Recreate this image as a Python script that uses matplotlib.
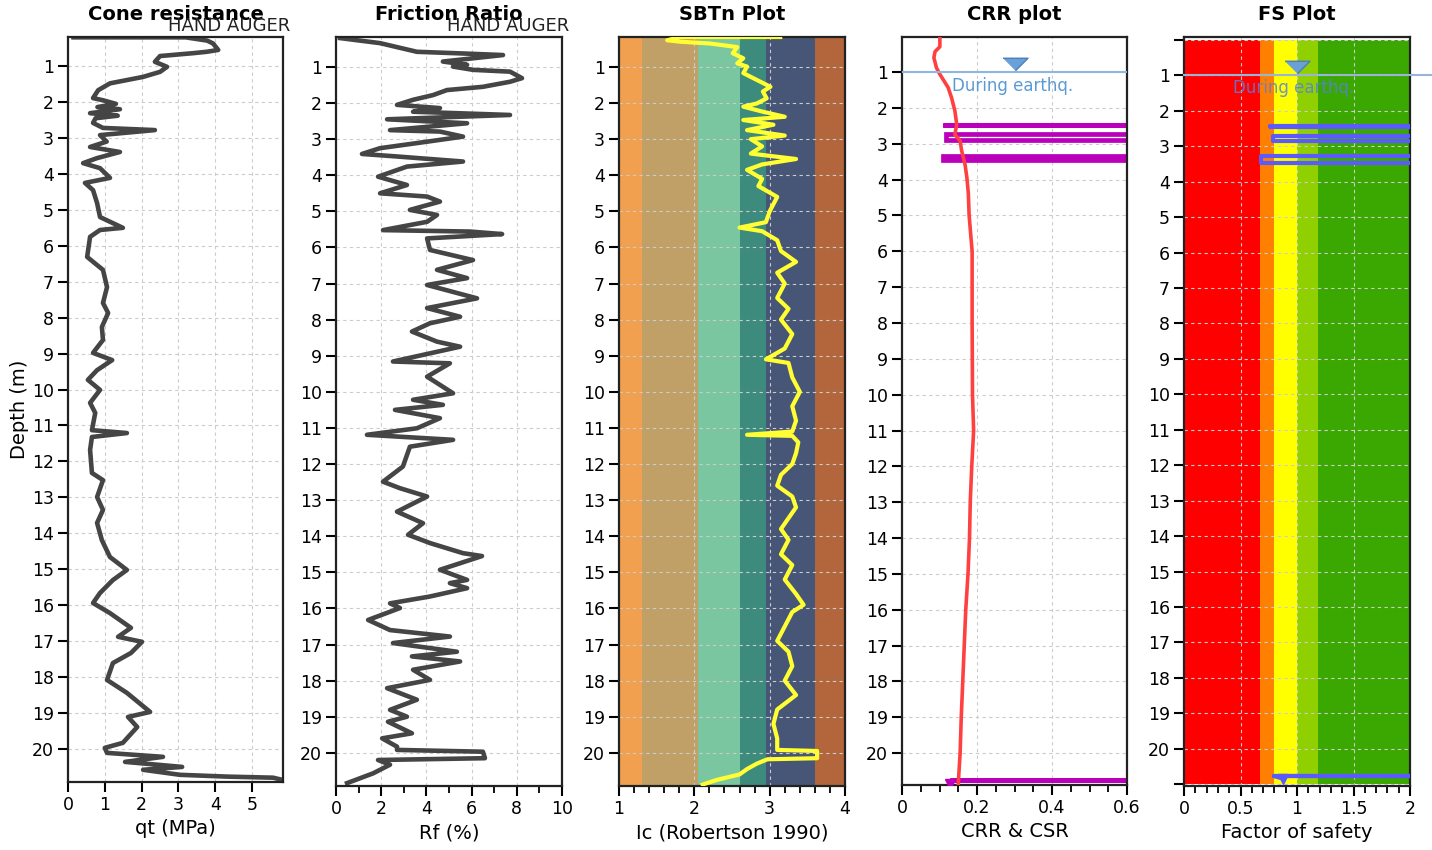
import numpy as np
import matplotlib
matplotlib.use('Agg')
import matplotlib.pyplot as plt
from matplotlib.ticker import MultipleLocator, FuncFormatter

# Cone resistance qt (MPa) vs depth (m)
qt_depth = [0.20, 0.20, 0.29, 0.37, 0.55, 0.60, 0.64, 0.72, 0.88, 1.02, 1.16, 1.30, 1.48, 1.67,
            1.89, 1.95, 2.05, 2.14, 2.20, 2.31, 2.38, 2.45, 2.58, 2.72, 2.78, 2.92, 3.10, 3.25,
            3.39, 3.56, 3.70, 3.84, 4.11, 4.25, 4.45, 4.81, 5.20, 5.50, 5.56, 5.75, 6.31, 6.67,
            7.15, 7.59, 7.87, 8.26, 8.62, 8.98, 9.18, 9.46, 9.73, 10.01, 10.37, 10.65, 11.13,
            11.21, 11.32, 11.68, 12.32, 12.52, 12.99, 13.35, 13.71, 14.19, 14.66, 15.02, 15.30,
            15.66, 15.94, 16.22, 16.63, 16.88, 17.02, 17.33, 17.61, 18.08, 18.44, 18.97, 19.11,
            19.39, 19.83, 19.97, 20.11, 20.22, 20.36, 20.50, 20.58, 20.72, 20.77, 20.80, 20.86]
qt_val = [0.15, 3.20, 3.78, 3.94, 4.08, 3.78, 3.40, 2.50, 2.36, 2.69, 2.50, 2.04, 1.14, 0.82,
          0.68, 0.95, 1.30, 0.80, 1.41, 0.60, 1.35, 0.75, 0.68, 0.95, 2.36, 0.87, 1.05, 0.60,
          1.41, 0.79, 0.41, 0.87, 1.14, 0.46, 0.68, 0.79, 0.87, 1.49, 0.87, 0.60, 0.52, 0.95,
          1.06, 0.95, 1.09, 0.92, 0.95, 0.68, 1.20, 0.79, 0.54, 0.87, 0.60, 0.74, 0.65,
          1.60, 0.65, 0.60, 0.65, 0.95, 0.79, 0.95, 0.79, 0.92, 1.14, 1.60, 1.22,
          0.87, 0.68, 1.14, 1.71, 1.36, 2.01, 1.71, 1.22, 1.06, 1.60, 2.23, 1.63,
          1.88, 1.49, 1.00, 1.06, 2.58, 1.55, 3.10, 2.04, 3.04, 4.32, 5.57, 5.82]

# Friction ratio Rf (%) vs depth (m)
rf_depth = [0.20, 0.34, 0.58, 0.62, 0.67, 0.85, 0.94, 0.99, 1.08, 1.13, 1.31, 1.41, 1.55, 1.64,
            1.78, 1.91, 2.05, 2.14, 2.24, 2.33, 2.45, 2.56, 2.75, 2.79, 2.93, 3.07, 3.25, 3.41,
            3.48, 3.62, 3.76, 4.04, 4.27, 4.50, 4.59, 4.73, 4.96, 5.10, 5.29, 5.52, 5.56, 5.63,
            5.75, 6.07, 6.35, 6.62, 6.85, 7.04, 7.41, 7.68, 7.92, 8.10, 8.33, 8.61, 8.75, 9.16,
            9.21, 9.58, 10.04, 10.22, 10.36, 10.50, 10.73, 11.01, 11.19, 11.33, 11.52, 12.07,
            12.49, 12.67, 12.90, 13.32, 13.64, 13.96, 14.19, 14.47, 14.55, 14.93, 15.21, 15.30,
            15.44, 15.67, 15.86, 15.99, 16.32, 16.60, 16.78, 16.96, 17.20, 17.33, 17.47, 17.70,
            17.98, 18.21, 18.53, 18.81, 19.00, 19.14, 19.46, 19.60, 19.83, 19.92, 19.97, 20.15,
            20.20, 20.33, 20.57, 20.84]
rf_val = [0.18, 1.95, 3.58, 5.35, 7.39, 4.73, 5.80, 5.18, 6.06, 7.70, 8.23, 7.70, 6.50, 4.91,
          4.29, 3.41, 2.70, 4.60, 3.41, 7.70, 2.26, 5.80, 2.39, 4.60, 5.62, 4.03, 1.95, 1.15,
          2.70, 5.62, 3.14, 1.86, 3.14, 1.95, 4.03, 4.60, 3.27, 4.47, 4.03, 2.08, 5.93, 7.35,
          4.03, 4.16, 6.06, 4.47, 5.80, 4.03, 6.24, 4.03, 5.49, 4.16, 3.36, 4.47, 5.49, 2.52,
          5.04, 4.03, 5.18, 3.41, 4.73, 2.61, 4.60, 3.58, 1.37, 5.18, 3.27, 2.96,
          2.08, 2.83, 4.03, 2.70, 3.85, 3.19, 4.16, 5.62, 6.46, 4.60, 5.80, 5.04,
          5.80, 4.16, 2.39, 2.83, 1.42, 2.39, 5.04, 2.52, 5.35, 3.36, 5.49, 3.41,
          4.16, 2.26, 3.58, 2.39, 3.14, 2.30, 3.36, 2.04, 2.70, 2.70, 6.50, 6.59,
          1.86, 2.39, 1.64, 0.49]

# Soil behaviour type index Ic vs depth (m)
ic_depth = [0.17, 0.17, 0.26, 0.30, 0.35, 0.45, 0.62, 0.76, 0.90, 0.99, 1.17, 1.36, 1.55, 1.68,
            1.87, 2.01, 2.10, 2.24, 2.38, 2.47, 2.60, 2.75, 2.90, 3.00, 3.20, 3.40, 3.55, 3.70,
            3.85, 4.10, 4.30, 4.60, 5.00, 5.30, 5.45, 5.55, 5.80, 6.10, 6.40, 6.70, 7.00, 7.40,
            7.70, 8.00, 8.40, 8.80, 9.10, 9.20, 9.60, 10.00, 10.40, 10.80, 11.10, 11.19, 11.22,
            11.40, 11.70, 12.00, 12.30, 12.60, 12.90, 13.20, 13.50, 13.80, 14.10, 14.50, 14.80,
            15.20, 15.60, 15.90, 16.10, 16.50, 16.90, 17.20, 17.60, 18.00, 18.40, 18.80, 19.20,
            19.60, 19.92, 19.95, 20.15, 20.18, 20.30, 20.45, 20.60, 20.75, 20.88]
ic_val = [3.14, 1.81, 1.64, 1.81, 2.21, 2.57, 2.51, 2.65, 2.57, 2.70, 2.65, 2.83, 3.01, 2.91,
          2.96, 2.83, 2.65, 2.91, 3.20, 2.65, 3.05, 2.70, 3.20, 2.75, 2.90, 2.75, 3.35, 2.90,
          2.70, 2.90, 2.85, 3.10, 3.00, 2.95, 2.60, 2.90, 3.10, 3.15, 3.35, 3.10, 3.20, 3.10,
          3.25, 3.15, 3.30, 3.20, 2.95, 3.25, 3.30, 3.40, 3.30, 3.35, 3.30, 2.70, 3.30,
          3.38, 3.35, 3.30, 3.15, 3.10, 3.30, 3.35, 3.25, 3.15, 3.25, 3.15, 3.30,
          3.20, 3.35, 3.45, 3.30, 3.20, 3.10, 3.25, 3.30, 3.20, 3.35, 3.10, 3.05,
          3.10, 3.10, 3.63, 3.63, 2.97, 2.83, 2.70, 2.60, 2.30, 2.11]

# SBTn zone boundaries (Ic) and colours
sbt_edges = [1.0, 1.31, 2.05, 2.60, 2.95, 3.60, 4.0]
sbt_colors = ['#f0a04e', '#c0a066', '#7ac6a0', '#3d8b7d', '#475677', '#b3663b']

# Cyclic resistance ratio vs depth (m)
crr_depth = [0.02, 0.29, 0.43, 0.60, 0.88, 1.06, 1.43, 1.71, 2.08, 2.46, 2.74, 2.92, 3.19, 3.57,
             3.94, 4.40, 5.00, 6.00, 8.00, 10.00, 11.00, 12.00, 13.00, 14.00, 15.00, 16.00,
             17.00, 18.00, 19.00, 20.00, 20.85]
crr_val = [0.101, 0.101, 0.088, 0.085, 0.092, 0.101, 0.123, 0.132, 0.141, 0.146, 0.141, 0.155,
           0.159, 0.168, 0.173, 0.177, 0.179, 0.187, 0.187, 0.188, 0.191, 0.186, 0.182, 0.180,
           0.176, 0.170, 0.166, 0.162, 0.158, 0.155, 0.150]

# Liquefiable layers: top / bottom depth, CSR and FS minima
liq_top = [2.48, 2.74, 3.33, 20.74]
liq_bot = [2.48, 2.90, 3.45, 20.74]
csr_min = [0.110, 0.117, 0.109, 0.127]
fs_top = [2.44, 2.71, 3.28, 20.76]
fs_bot = [2.47, 2.85, 3.47, 20.78]
fs_min = [0.76, 0.79, 0.68, 0.80]

# FS colour zones
fs_edges = [0, 0.67, 0.80, 1.0, 1.19, 2.0]
fs_colors = ['#ff0000', '#ff8000', '#ffff00', '#90d000', '#3aa800']

water_depth = 1.0

fig = plt.figure(figsize=(14.32, 8.5), dpi=100)
W, H = 1432.0, 850.0


def make_ax(l, r, t, b):
    return fig.add_axes([l / W, 1 - b / H, (r - l) / W, (b - t) / H])


def style(ax, xlim, ylim, xmaj, xmin, xlabel):
    ax.set_xlim(*xlim)
    ax.set_ylim(*ylim)
    ax.xaxis.set_major_locator(MultipleLocator(xmaj))
    if xmin:
        ax.xaxis.set_minor_locator(MultipleLocator(xmin))
    ax.yaxis.set_major_locator(MultipleLocator(1))
    ax.xaxis.set_major_formatter(FuncFormatter(lambda v, p: '%g' % round(v, 3)))
    ax.grid(True, which='major', color='#cccccc', linestyle=(0, (3, 3)), linewidth=0.8)
    for s in ax.spines.values():
        s.set_linewidth(1.6)
        s.set_color('#222222')
    ax.tick_params(which='major', direction='out', length=7, width=1.5, labelsize=12.5, pad=3)
    ax.tick_params(which='minor', direction='out', length=5, width=1.3)
    ax.set_xlabel(xlabel, fontsize=14, labelpad=4)


def title(ax, txt, auger=False):
    bb = ax.get_position()
    fig.text((bb.x0 + bb.x1) / 2, 1 - 14 / H, txt, ha='center', va='center',
             fontsize=14, fontweight='bold')
    if auger:
        fig.text(bb.x1 + 7 / W, 1 - 26 / H, 'HAND AUGER', ha='right', va='center',
                 fontsize=13, color='#222222')


# Cone resistance
ax1 = make_ax(68, 283, 37, 782)
ax1.plot(qt_val, qt_depth, color='#454545', lw=3.3, solid_joinstyle='round')
style(ax1, (0, 5.84), (20.92, 0.19), 1, None, 'qt (MPa)')
ax1.set_ylabel('Depth (m)', fontsize=14, labelpad=2)
title(ax1, 'Cone resistance', auger=True)

# Friction ratio
ax2 = make_ax(336, 562, 37, 786)
ax2.plot(rf_val, rf_depth, color='#454545', lw=3.3, solid_joinstyle='round')
style(ax2, (0, 10), (20.92, 0.17), 2, 1, 'Rf (%)')
title(ax2, 'Friction Ratio', auger=True)

# SBTn
ax3 = make_ax(619, 845, 37, 786)
for i, c in enumerate(sbt_colors):
    ax3.axvspan(sbt_edges[i], sbt_edges[i + 1], color=c, lw=0)
ax3.plot(ic_val, ic_depth, color='#ffff33', lw=3, solid_joinstyle='round', zorder=3)
style(ax3, (1, 4), (20.92, 0.17), 1, 0.2, 'Ic (Robertson 1990)')
title(ax3, 'SBTn Plot')

# CRR plot
ax4 = make_ax(902, 1127, 37, 785)
ax4.plot(crr_val, crr_depth, color='#ff4040', lw=2.6, zorder=3)
for t, b, m in zip(liq_top, liq_bot, csr_min):
    ax4.plot([0.7, m, m, 0.7], [t, t, b, b], color='#bb00bb', lw=3.4, zorder=2,
             solid_joinstyle='miter')
ax4.fill_betweenx([liq_top[2], liq_bot[2]], csr_min[2], 0.35, color='#bb00bb', lw=0, zorder=2)
ax4.plot([csr_min[3]], [20.86], marker='v', color='#bb00bb', ms=7, zorder=3)
ax4.axhline(water_depth, color='#8fb6e0', lw=1.5, zorder=4)
tri = [(-1, 0.5), (1, 0.5), (0, -0.5)]
ax4.plot([0.3], [water_depth - 0.22], marker=tri, ms=18, color='#6a9fd8',
         mec='#4a7fb8', mew=1, zorder=5)
ax4.text(0.295, water_depth + 0.39, 'During earthq.', ha='center', va='center',
         fontsize=12, color='#5b9bd5', zorder=5)
style(ax4, (0, 0.6), (20.89, 0.02), 0.2, 0.05, 'CRR & CSR')
title(ax4, 'CRR plot')

# FS plot
ax5 = make_ax(1184, 1410, 37, 786)
for i, c in enumerate(fs_colors):
    ax5.fill_betweenx([0, 21], fs_edges[i], fs_edges[i + 1], color=c, lw=0, zorder=1)
for t, b, m in zip(fs_top, fs_bot, fs_min):
    ax5.plot([2.2, m, m, 2.2], [t, t, b, b], color='#5a5aff', lw=3, zorder=3)
ax5.plot([fs_min[3], 0.88], [fs_bot[3], 20.86], color='#5a5aff', lw=2.5, zorder=3)
ax5.plot([0.88], [20.86], marker='v', color='#5a5aff', ms=7, zorder=3)
ax5.plot([0, 2.2], [water_depth, water_depth], color='#9ab4d8', lw=1.5, zorder=4,
         clip_on=False)
ax5.plot([1.0], [water_depth - 0.23], marker=tri, ms=18, color='#6a9fd8',
         mec='#4a7fb8', mew=1, zorder=5)
ax5.text(0.97, water_depth + 0.37, 'During earthq.', ha='center', va='center',
         fontsize=12, color='#5b7fe0', alpha=0.85, zorder=5)
style(ax5, (0, 2), (21.05, -0.08), 0.5, 0.1, 'Factor of safety')
ax5.yaxis.set_major_formatter(FuncFormatter(lambda v, p: '' if v < 0.5 or v > 20.5 else '%d' % v))
title(ax5, 'FS Plot')

fig.savefig('out.png', dpi=100)
